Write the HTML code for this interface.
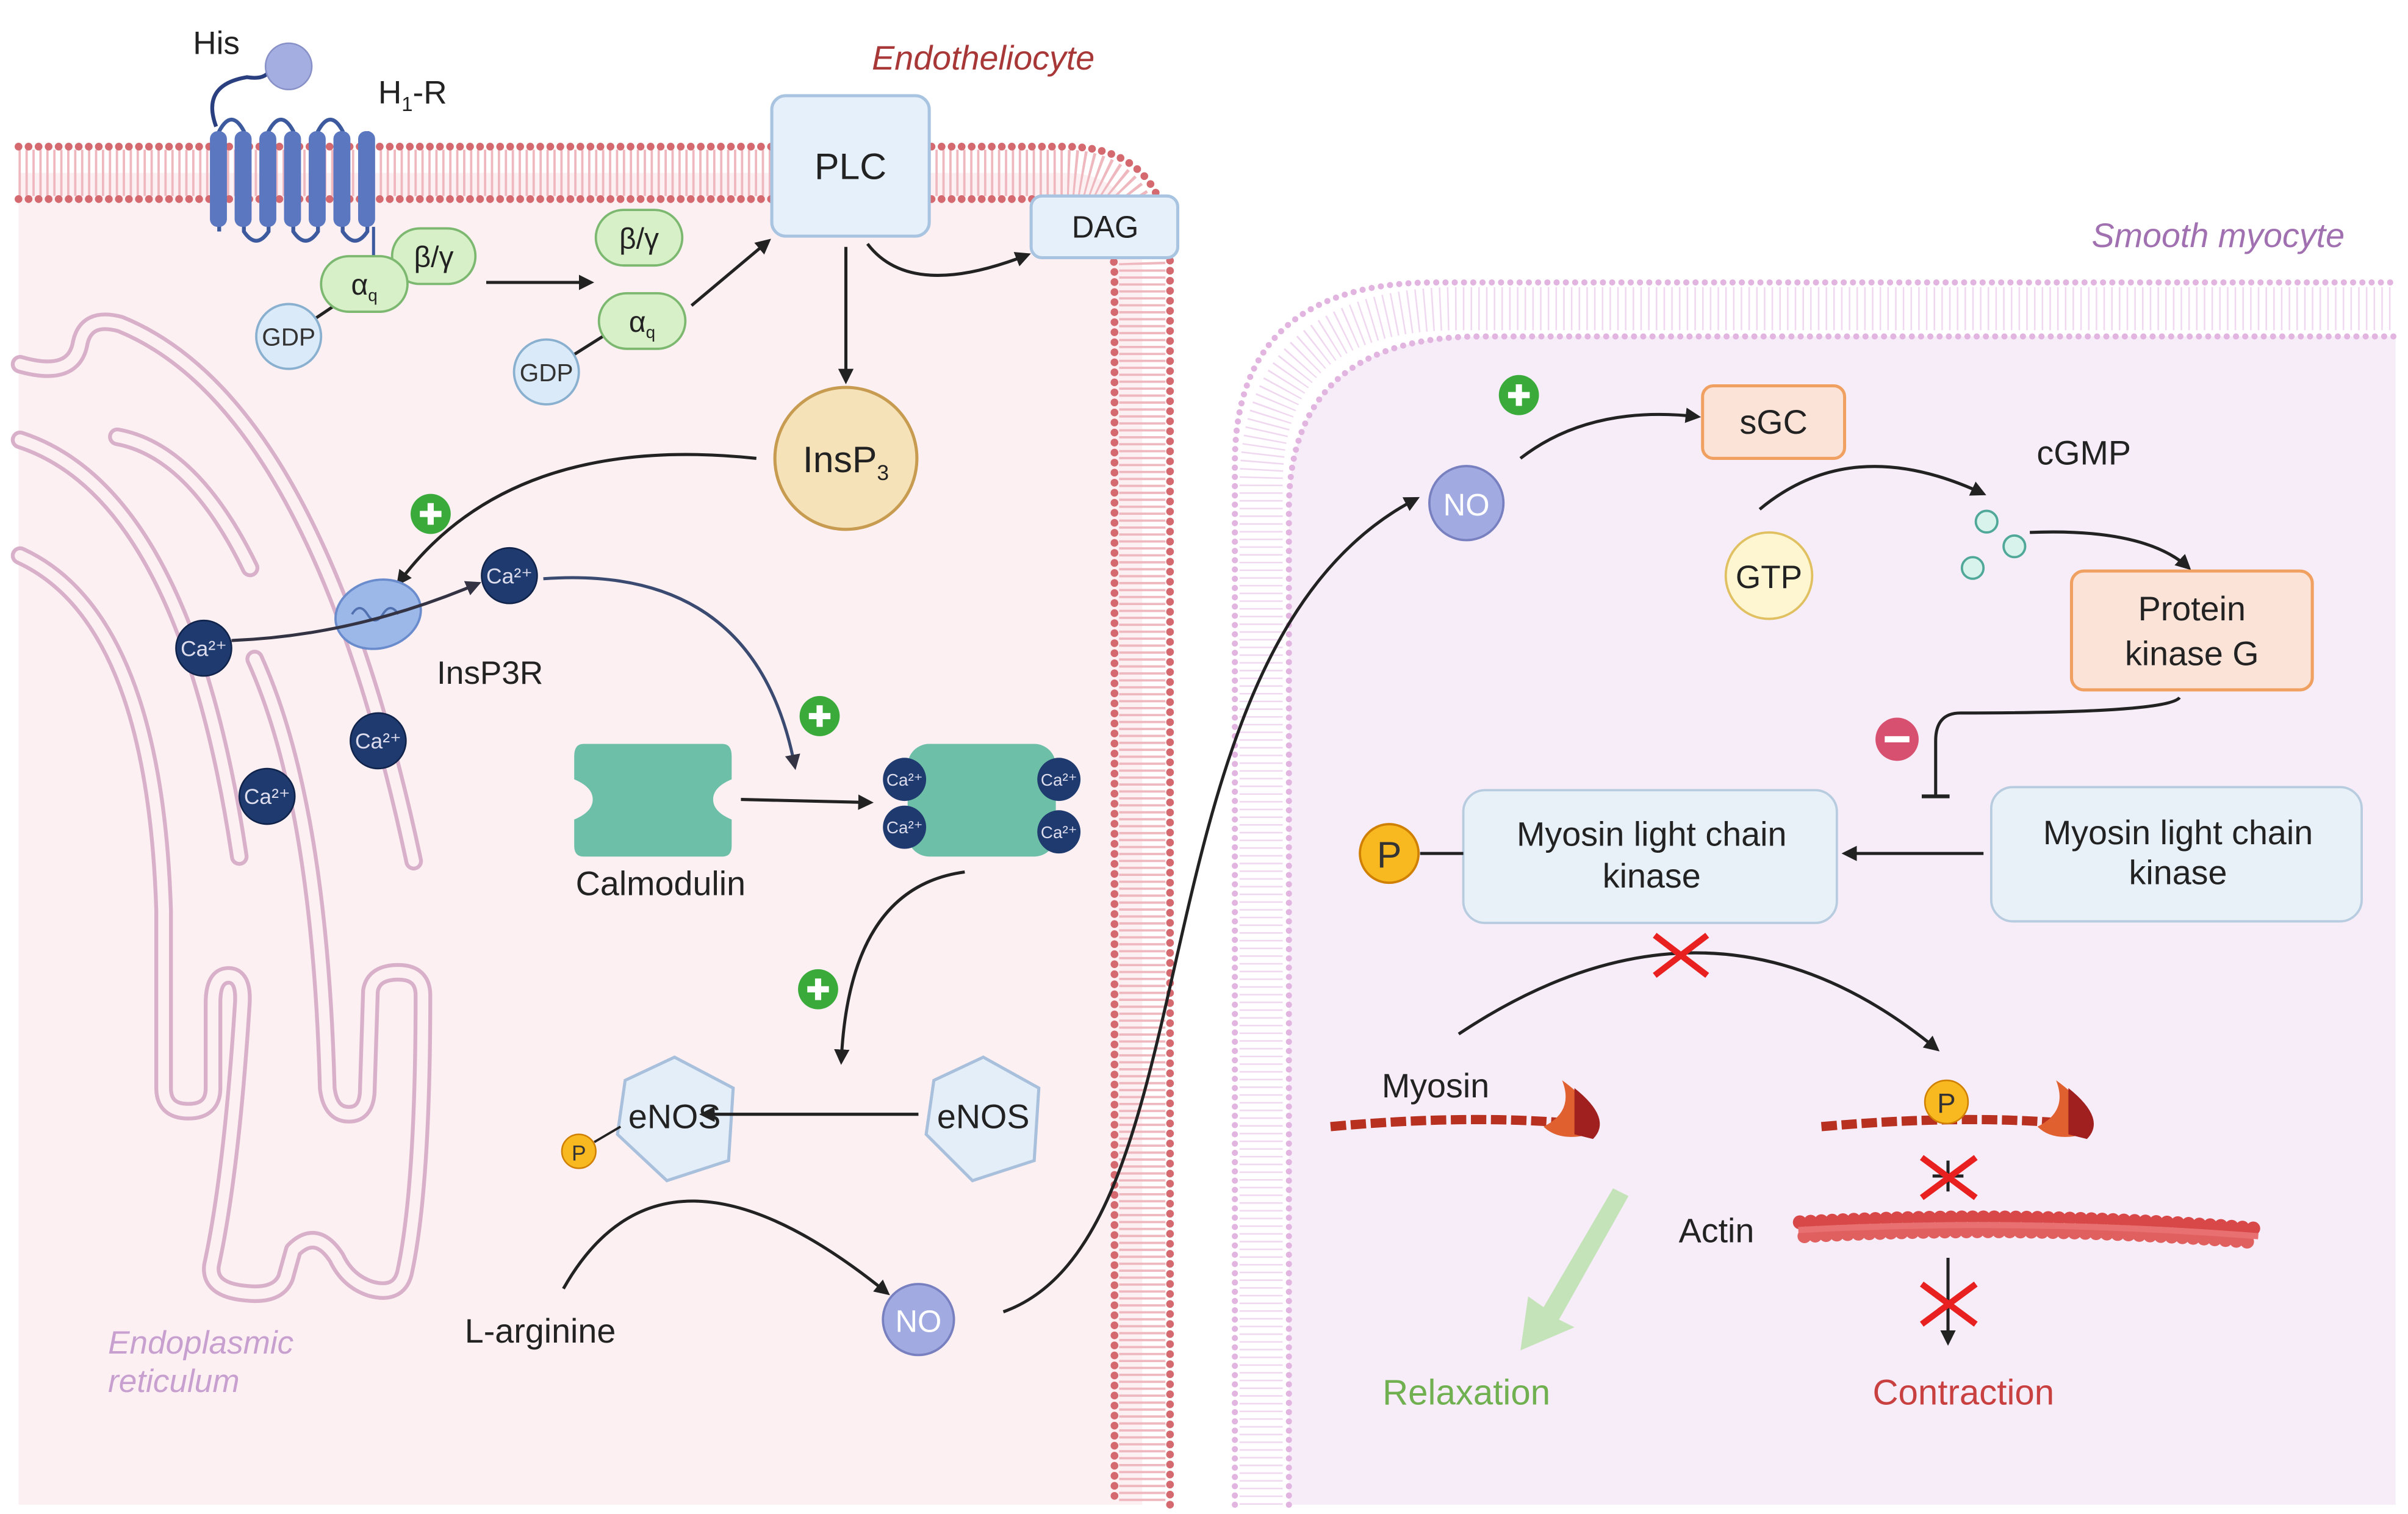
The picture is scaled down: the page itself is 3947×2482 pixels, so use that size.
<!DOCTYPE html>
<html><head><meta charset="utf-8"><style>
html,body{margin:0;padding:0;background:#fff;}
svg{display:block;}
text{font-family:"Liberation Sans",sans-serif;}
</style></head><body>
<svg width="3947" height="2482" viewBox="0 0 1560 981" preserveAspectRatio="none" xmlns="http://www.w3.org/2000/svg">
<defs>
<marker id="ah" viewBox="0 0 10 10" refX="8" refY="5" markerWidth="5" markerHeight="5" orient="auto"><path d="M0,0 L10,5 L0,10 z" fill="#222"/></marker>
<marker id="ahb" viewBox="0 0 10 10" refX="8" refY="5" markerWidth="5" markerHeight="5" orient="auto"><path d="M0,0 L10,5 L0,10 z" fill="#334"/></marker>
</defs>
<!-- endothelial cell -->
<path d="M12,112 H690 Q740,112 740,175 V975 H12 Z" fill="#fcf0f3"/>
<path d="M12,112 H690 Q740,112 740,175 V975" fill="none" stroke="#efb8bf" stroke-width="30" stroke-dasharray="1.5 3"/>
<path d="M12,95 H690 Q758,95 758,170 V975" fill="none" stroke="#d46a70" stroke-width="5" stroke-linecap="round" stroke-dasharray="0 6.5"/>
<path d="M12,129 H685 Q722,129 722,180 V975" fill="none" stroke="#d46a70" stroke-width="5" stroke-linecap="round" stroke-dasharray="0 6.5"/>
<!-- myocyte -->
<path d="M835,975 V330 Q835,218 960,218 H1552 V975 Z" fill="#f6edf9"/>
<path d="M800,975 V300 Q800,183 930,183 H1552" fill="none" stroke="#e2b4e0" stroke-width="4" stroke-linecap="round" stroke-dasharray="0 6"/>
<path d="M835,975 V330 Q835,218 960,218 H1552" fill="none" stroke="#e2b4e0" stroke-width="4" stroke-linecap="round" stroke-dasharray="0 6"/>
<path d="M817,975 V315 Q817,200 945,200 H1552" fill="none" stroke="#f0d8f0" stroke-width="28" stroke-dasharray="1 4"/>
<!-- ER -->
<g fill="none" stroke="#d9b0c9" stroke-width="12" stroke-linecap="round" stroke-linejoin="round">
<path d="M13,236 Q48,246 52,222 Q56,204 78,210 Q205,262 268,558"/>
<path d="M76,283 Q125,292 162,368"/>
<path d="M13,285 Q120,320 155,555"/>
<path d="M165,427 Q207,520 212,705 Q214,722 226,722 Q238,722 238,705 L240,642 Q242,630 258,630 Q274,630 274,645 Q274,770 262,825 Q258,840 240,835 Q225,830 218,815 Q205,795 190,810 L185,828 Q180,840 160,838 Q135,836 137,820 Q150,760 157,650 Q158,632 148,632 Q138,632 138,650 L138,705 Q138,720 122,720 Q106,720 106,705 L106,590 Q100,400 13,360"/>
</g>
<g fill="none" stroke="#fcf0f3" stroke-width="7" stroke-linecap="round" stroke-linejoin="round">
<path d="M13,236 Q48,246 52,222 Q56,204 78,210 Q205,262 268,558"/>
<path d="M76,283 Q125,292 162,368"/>
<path d="M13,285 Q120,320 155,555"/>
<path d="M165,427 Q207,520 212,705 Q214,722 226,722 Q238,722 238,705 L240,642 Q242,630 258,630 Q274,630 274,645 Q274,770 262,825 Q258,840 240,835 Q225,830 218,815 Q205,795 190,810 L185,828 Q180,840 160,838 Q135,836 137,820 Q150,760 157,650 Q158,632 148,632 Q138,632 138,650 L138,705 Q138,720 122,720 Q106,720 106,705 L106,590 Q100,400 13,360"/>
</g>
<!-- labels -->
<text x="637" y="45" font-size="22" font-style="italic" fill="#a83838" text-anchor="middle">Endotheliocyte</text>
<text x="1437" y="160" font-size="22" font-style="italic" fill="#a070b0" text-anchor="middle">Smooth myocyte</text>
<text x="70" y="877" font-size="21" font-style="italic" fill="#c8a0d0">Endoplasmic</text>
<text x="70" y="902" font-size="21" font-style="italic" fill="#c8a0d0">reticulum</text>
<!-- receptor -->
<text x="125" y="35" font-size="21" fill="#222">His</text>
<path d="M140,82 Q130,55 160,50 Q172,52 175,45" fill="none" stroke="#2a3f80" stroke-width="2.5"/>
<circle cx="187" cy="43" r="15" fill="#a4aee0" stroke="#8890c8"/>
<text x="245" y="67" font-size="21" fill="#222">H<tspan font-size="13" dy="5">1</tspan><tspan dy="-5">-R</tspan></text>
<path d="M142,150 V85 Q150,70 158,85 V150 Q166,162 174,150 V85 Q182,70 190,85 V150 Q198,162 206,150 V85 Q214,70 222,85 V150 Q230,162 238,150 V85" fill="none" stroke="#3d5a9e" stroke-width="2.5"/>
<g fill="#5b77c0"><rect x="136" y="85" width="11" height="62" rx="5"/><rect x="152" y="85" width="11" height="62" rx="5"/><rect x="168" y="85" width="11" height="62" rx="5"/><rect x="184" y="85" width="11" height="62" rx="5"/><rect x="200" y="85" width="11" height="62" rx="5"/><rect x="216" y="85" width="11" height="62" rx="5"/><rect x="232" y="85" width="11" height="62" rx="5"/></g>
<line x1="242" y1="147" x2="242" y2="168" stroke="#3d5a9e" stroke-width="2"/>
<!-- G proteins -->
<line x1="187" y1="218" x2="236" y2="185" stroke="#222" stroke-width="2"/>
<rect x="254" y="148" width="54" height="36" rx="18" fill="#d8f0c8" stroke="#7cb870" stroke-width="1.5"/>
<text x="281" y="173" font-size="19" text-anchor="middle" fill="#222">β/γ</text>
<rect x="208" y="166" width="56" height="36" rx="18" fill="#d8f0c8" stroke="#7cb870" stroke-width="1.5"/>
<text x="236" y="191" font-size="19" text-anchor="middle" fill="#222">α<tspan font-size="11" dy="4">q</tspan></text>
<circle cx="187" cy="218" r="21" fill="#dbeaf8" stroke="#8ab0d0" stroke-width="1.5"/>
<text x="187" y="224" font-size="16" text-anchor="middle" fill="#333">GDP</text>
<line x1="315" y1="183" x2="383" y2="183" stroke="#222" stroke-width="2" marker-end="url(#ah)"/>
<rect x="386" y="136" width="56" height="36" rx="18" fill="#d8f0c8" stroke="#7cb870" stroke-width="1.5"/>
<text x="414" y="161" font-size="19" text-anchor="middle" fill="#222">β/γ</text>
<line x1="354" y1="241" x2="400" y2="212" stroke="#222" stroke-width="2"/>
<rect x="388" y="190" width="56" height="36" rx="18" fill="#d8f0c8" stroke="#7cb870" stroke-width="1.5"/>
<text x="416" y="215" font-size="19" text-anchor="middle" fill="#222">α<tspan font-size="11" dy="4">q</tspan></text>
<circle cx="354" cy="241" r="21" fill="#dbeaf8" stroke="#8ab0d0" stroke-width="1.5"/>
<text x="354" y="247" font-size="16" text-anchor="middle" fill="#333">GDP</text>
<line x1="448" y1="198" x2="498" y2="156" stroke="#222" stroke-width="2" marker-end="url(#ah)"/>
<!-- PLC DAG -->
<rect x="500" y="62" width="102" height="91" rx="9" fill="#e6f0fa" stroke="#a8c4e0" stroke-width="2"/>
<text x="551" y="116" font-size="24" text-anchor="middle" fill="#222">PLC</text>
<rect x="668" y="127" width="95" height="40" rx="7" fill="#e6f0fa" stroke="#a8c4e0" stroke-width="2"/>
<text x="716" y="154" font-size="20" text-anchor="middle" fill="#222">DAG</text>
<path d="M562,158 Q590,195 666,165" fill="none" stroke="#222" stroke-width="2" marker-end="url(#ah)"/>
<line x1="548" y1="160" x2="548" y2="247" stroke="#222" stroke-width="2" marker-end="url(#ah)"/>
<circle cx="548" cy="297" r="46" fill="#f5e2b8" stroke="#c89c50" stroke-width="2"/>
<text x="548" y="306" font-size="24" text-anchor="middle" fill="#222">InsP<tspan font-size="14" dy="5">3</tspan></text>
<path d="M490,297 Q330,280 258,378" fill="none" stroke="#222" stroke-width="2" marker-end="url(#ah)"/>
<!-- plus signs -->
<g><circle cx="279" cy="333" r="13" fill="#3aaa3a"/><path d="M272,333 H286 M279,326 V340" stroke="#fff" stroke-width="4"/></g>
<g><circle cx="531" cy="464" r="13" fill="#3aaa3a"/><path d="M524,464 H538 M531,457 V471" stroke="#fff" stroke-width="4"/></g>
<g><circle cx="530" cy="641" r="13" fill="#3aaa3a"/><path d="M523,641 H537 M530,634 V648" stroke="#fff" stroke-width="4"/></g>
<g><circle cx="984" cy="256" r="13" fill="#3aaa3a"/><path d="M977,256 H991 M984,249 V263" stroke="#fff" stroke-width="4"/></g>
<g><circle cx="1229" cy="479" r="14" fill="#d85070"/><path d="M1221,479 H1237" stroke="#fff" stroke-width="4"/></g>
<!-- InsP3R -->
<ellipse cx="245" cy="398" rx="28" ry="22" fill="#9cb8e8" stroke="#6a8ccc" stroke-width="1.5" transform="rotate(-15 245 398)"/>
<path d="M228,398 q5,-8 10,0 q5,8 10,0 q5,-8 10,0" fill="none" stroke="#5070b0" stroke-width="1.5"/>
<text x="283" y="443" font-size="21" fill="#222">InsP3R</text>
<path d="M150,415 Q230,412 310,378" fill="none" stroke="#334" stroke-width="2" marker-end="url(#ahb)"/>
<path d="M352,375 Q490,365 515,497" fill="none" stroke="#3a4a70" stroke-width="2" marker-end="url(#ahb)"/>
<!-- Ca -->
<g font-size="14" text-anchor="middle" fill="#dde">
<circle cx="132" cy="420" r="18" fill="#1f3a6e" stroke="#10234a"/><text x="132" y="425">Ca²⁺</text>
<circle cx="330" cy="373" r="18" fill="#1f3a6e" stroke="#10234a"/><text x="330" y="378">Ca²⁺</text>
<circle cx="245" cy="480" r="18" fill="#1f3a6e" stroke="#10234a"/><text x="245" y="485">Ca²⁺</text>
<circle cx="173" cy="516" r="18" fill="#1f3a6e" stroke="#10234a"/><text x="173" y="521">Ca²⁺</text>
</g>
<!-- calmodulin -->
<path d="M378,482 H468 Q474,482 474,490 V505 Q462,510 462,518 Q462,526 474,531 V548 Q474,555 468,555 H378 Q372,555 372,548 V531 Q384,526 384,518 Q384,510 372,505 V490 Q372,482 378,482 Z" fill="#6dbfa8"/>
<text x="428" y="580" font-size="22" text-anchor="middle" fill="#222">Calmodulin</text>
<line x1="480" y1="518" x2="564" y2="520" stroke="#222" stroke-width="2" marker-end="url(#ah)"/>
<rect x="588" y="482" width="96" height="73" rx="14" fill="#6dbfa8"/>
<g font-size="11" text-anchor="middle" fill="#dde">
<circle cx="586" cy="505" r="14" fill="#1f3a6e"/><text x="586" y="509">Ca²⁺</text>
<circle cx="586" cy="536" r="14" fill="#1f3a6e"/><text x="586" y="540">Ca²⁺</text>
<circle cx="686" cy="505" r="14" fill="#1f3a6e"/><text x="686" y="509">Ca²⁺</text>
<circle cx="686" cy="539" r="14" fill="#1f3a6e"/><text x="686" y="543">Ca²⁺</text>
</g>
<path d="M625,565 Q550,575 545,688" fill="none" stroke="#222" stroke-width="2" marker-end="url(#ah)"/>
<!-- eNOS -->
<polygon points="437,685 475,705 472,752 432,765 400,735 405,700" fill="#e4eef8" stroke="#a8c0dc" stroke-width="2"/>
<text x="437" y="731" font-size="22" text-anchor="middle" fill="#222">eNOS</text>
<polygon points="637,685 673,705 670,752 630,765 600,735 605,700" fill="#e4eef8" stroke="#a8c0dc" stroke-width="2"/>
<text x="637" y="731" font-size="22" text-anchor="middle" fill="#222">eNOS</text>
<line x1="595" y1="722" x2="455" y2="722" stroke="#222" stroke-width="2" marker-end="url(#ah)"/>
<line x1="385" y1="740" x2="402" y2="730" stroke="#222" stroke-width="1.5"/>
<circle cx="375" cy="746" r="11" fill="#f8b820" stroke="#d08000"/>
<text x="375" y="752" font-size="14" text-anchor="middle" fill="#333">P</text>
<path d="M365,835 Q430,720 575,838" fill="none" stroke="#222" stroke-width="2" marker-end="url(#ah)"/>
<text x="350" y="870" font-size="22" text-anchor="middle" fill="#222">L-arginine</text>
<circle cx="595" cy="855" r="23" fill="#a2aae2" stroke="#7880c0" stroke-width="1.5"/>
<text x="595" y="863" font-size="20" text-anchor="middle" fill="#fff">NO</text>
<path d="M650,850 C790,800 730,420 918,323" fill="none" stroke="#222" stroke-width="2" marker-end="url(#ah)"/>
<!-- myocyte -->
<circle cx="950" cy="326" r="24" fill="#a2aae2" stroke="#7880c0" stroke-width="1.5"/>
<text x="950" y="334" font-size="20" text-anchor="middle" fill="#fff">NO</text>
<path d="M985,297 Q1030,262 1100,270" fill="none" stroke="#222" stroke-width="2" marker-end="url(#ah)"/>
<rect x="1103" y="250" width="92" height="47" rx="7" fill="#fbe3d8" stroke="#f0a060" stroke-width="2"/>
<text x="1149" y="281" font-size="22" text-anchor="middle" fill="#222">sGC</text>
<text x="1350" y="301" font-size="22" text-anchor="middle" fill="#222">cGMP</text>
<path d="M1140,330 Q1200,280 1285,320" fill="none" stroke="#222" stroke-width="2" marker-end="url(#ah)"/>
<circle cx="1146" cy="373" r="28" fill="#fdf6d0" stroke="#e0c060" stroke-width="1.5"/>
<text x="1146" y="381" font-size="21" text-anchor="middle" fill="#222">GTP</text>
<g fill="#d8f2ec" stroke="#50a898" stroke-width="1.5"><circle cx="1287" cy="338" r="7"/><circle cx="1305" cy="354" r="7"/><circle cx="1278" cy="368" r="7"/></g>
<path d="M1315,345 Q1390,342 1418,368" fill="none" stroke="#222" stroke-width="2" marker-end="url(#ah)"/>
<rect x="1342" y="370" width="156" height="77" rx="8" fill="#fbe3d8" stroke="#f0a060" stroke-width="2"/>
<text x="1420" y="402" font-size="22" text-anchor="middle" fill="#222">Protein</text>
<text x="1420" y="431" font-size="22" text-anchor="middle" fill="#222">kinase G</text>
<path d="M1412,452 Q1405,462 1270,462 Q1254,462 1254,480 V516" fill="none" stroke="#222" stroke-width="2"/>
<line x1="1245" y1="516" x2="1263" y2="516" stroke="#222" stroke-width="2.5"/>
<rect x="948" y="512" width="242" height="86" rx="14" fill="#e8f0f8" stroke="#b8cce0" stroke-width="1.5"/>
<text x="1070" y="548" font-size="22" text-anchor="middle" fill="#222">Myosin light chain</text>
<text x="1070" y="575" font-size="22" text-anchor="middle" fill="#222">kinase</text>
<rect x="1290" y="510" width="240" height="87" rx="14" fill="#e8f0f8" stroke="#b8cce0" stroke-width="1.5"/>
<text x="1411" y="547" font-size="22" text-anchor="middle" fill="#222">Myosin light chain</text>
<text x="1411" y="573" font-size="22" text-anchor="middle" fill="#222">kinase</text>
<line x1="1285" y1="553" x2="1195" y2="553" stroke="#222" stroke-width="2" marker-end="url(#ah)"/>
<line x1="920" y1="553" x2="948" y2="553" stroke="#222" stroke-width="2"/>
<circle cx="900" cy="553" r="19" fill="#f8b820" stroke="#d08000" stroke-width="1.5"/>
<text x="900" y="562" font-size="24" text-anchor="middle" fill="#333">P</text>
<path d="M945,670 Q1110,560 1255,680" fill="none" stroke="#222" stroke-width="2" marker-end="url(#ah)"/>
<path d="M1072,606 L1106,632 M1106,606 L1072,632" stroke="#e82020" stroke-width="4"/>
<!-- myosin -->
<text x="930" y="711" font-size="22" text-anchor="middle" fill="#222">Myosin</text>
<path d="M862,730 Q950,722 1020,728" stroke="#b83020" stroke-width="6" fill="none" stroke-dasharray="10 3"/>
<path d="M1012,700 Q1040,720 1030,735 Q1010,740 1000,730 Q1020,720 1012,700 Z" fill="#e06030"/>
<path d="M1020,705 Q1045,725 1032,738 L1020,735 Z" fill="#a02020"/>
<path d="M1180,730 Q1270,722 1340,728" stroke="#b83020" stroke-width="6" fill="none" stroke-dasharray="10 3"/>
<path d="M1332,700 Q1360,720 1350,735 Q1330,740 1320,730 Q1340,720 1332,700 Z" fill="#e06030"/>
<path d="M1340,705 Q1365,725 1352,738 L1340,735 Z" fill="#a02020"/>
<circle cx="1261" cy="714" r="14" fill="#f8b820" stroke="#d08000"/>
<text x="1261" y="721" font-size="18" text-anchor="middle" fill="#333">P</text>
<line x1="1262" y1="752" x2="1262" y2="772" stroke="#222" stroke-width="2"/>
<line x1="1252" y1="762" x2="1272" y2="762" stroke="#222" stroke-width="2"/>
<path d="M1245,750 L1280,776 M1280,750 L1245,776" stroke="#e82020" stroke-width="4"/>
<text x="1112" y="805" font-size="22" text-anchor="middle" fill="#222">Actin</text>
<path d="M1166,792 Q1310,784 1460,796" stroke="#d84848" stroke-width="9" fill="none" stroke-dasharray="0 7" stroke-linecap="round"/>
<path d="M1169,801 Q1313,793 1462,805" stroke="#e06060" stroke-width="9" fill="none" stroke-dasharray="0 7" stroke-linecap="round"/>
<path d="M1165,797 Q1310,789 1463,801" stroke="#e87070" stroke-width="4" fill="none"/>
<line x1="1262" y1="815" x2="1262" y2="870" stroke="#222" stroke-width="2" marker-end="url(#ah)"/>
<path d="M1245,832 L1280,858 M1280,832 L1245,858" stroke="#e82020" stroke-width="4"/>
<path d="M1055,775 L1010,855 L1020,860 L985,875 L990,840 L1000,847 L1045,770 Z" fill="#b8e0a8" opacity="0.8"/>
<text x="950" y="910" font-size="23" text-anchor="middle" fill="#70b050">Relaxation</text>
<text x="1272" y="910" font-size="23" text-anchor="middle" fill="#c84040">Contraction</text>
</svg>
</body></html>
